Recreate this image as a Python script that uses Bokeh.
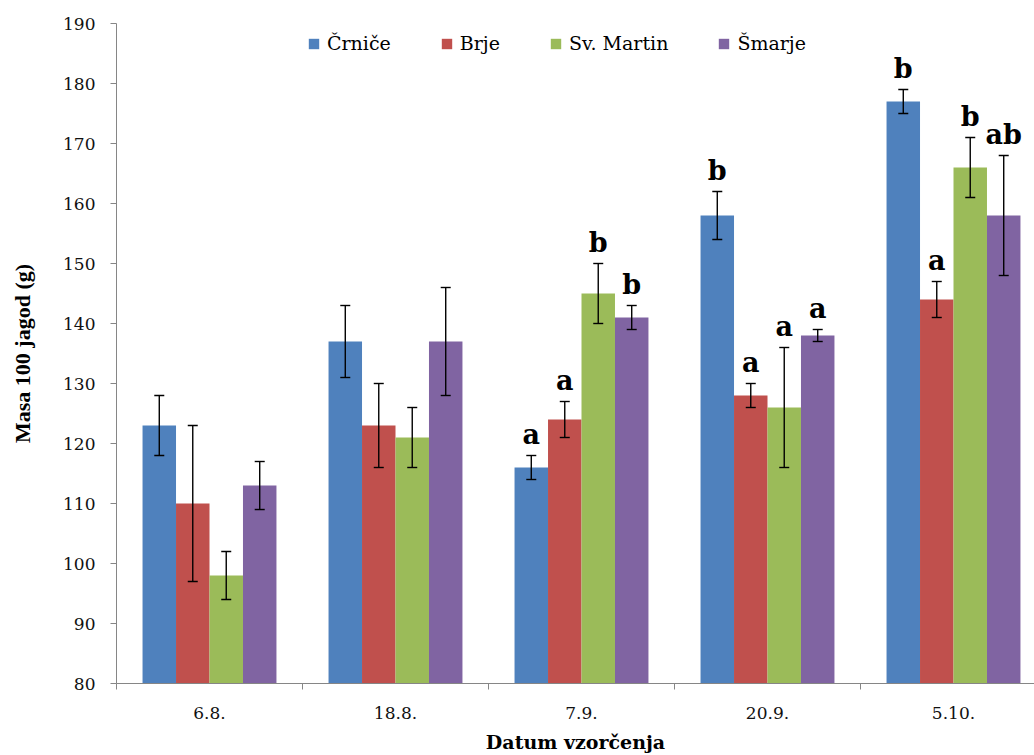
from bokeh.plotting import figure
from bokeh.models import Range1d, FixedTicker, ColumnDataSource, Whisker, Legend, LegendItem, TeeHead
from bokeh.core.properties import value
from bokeh.embed import file_html
from bokeh.resources import INLINE

# ---------------- data ----------------
dates = ["6.8.", "18.8.", "7.9.", "20.9.", "5.10."]
series = ["Črniče", "Brje", "Sv. Martin", "Šmarje"]

crnice = [123, 137, 116, 158, 177]
crnice_err = [5, 6, 2, 4, 2]
brje = [110, 123, 124, 128, 144]
brje_err = [13, 7, 3, 2, 3]
martin = [98, 121, 145, 126, 166]
martin_err = [4, 5, 5, 10, 5]
smarje = [113, 137, 141, 138, 158]
smarje_err = [4, 9, 2, 1, 10]

crnice_sig = ["", "", "a", "b", "b"]
brje_sig = ["", "", "a", "a", "a"]
martin_sig = ["", "", "b", "a", "b"]
smarje_sig = ["", "", "b", "a", "ab"]

y_ticks = [80, 90, 100, 110, 120, 130, 140, 150, 160, 170, 180, 190]

colors = ["#4F81BD", "#C0504D", "#9BBB59", "#8064A2"]

# ---------------- layout constants ----------------
W, H = 1034, 755
LEFT, TOP = 116, 23
CAT_PX = 186.0
FRAME_W = W - LEFT
FRAME_H = 660
y_min, y_max = y_ticks[0], y_ticks[-1]
px_per_unit = FRAME_H / (y_max - y_min)

SERIF = "DejaVu Serif"

p = figure(width=W, height=H, output_backend="svg", toolbar_location=None,
           x_range=Range1d(0, FRAME_W / CAT_PX), y_range=Range1d(y_min, y_max),
           min_border_left=LEFT, min_border_top=TOP, min_border_right=0,
           min_border_bottom=H - TOP - FRAME_H)
p.outline_line_color = None
p.xgrid.visible = False
p.ygrid.visible = False
p.background_fill_color = "white"
p.border_fill_color = "white"

values = [crnice, brje, martin, smarje]
errs = [crnice_err, brje_err, martin_err, smarje_err]
sigs = [crnice_sig, brje_sig, martin_sig, smarje_sig]
offsets = [-0.27, -0.09, 0.09, 0.27]
bar_w = 0.18
letter_gap = 21 / px_per_unit

items = []
for s, (name, vals, err, sig, col, off) in enumerate(zip(series, values, errs, sigs, colors, offsets)):
    xs = [i + 0.5 + off for i in range(len(dates))]
    upper = [v + e for v, e in zip(vals, err)]
    src = ColumnDataSource(dict(
        x=xs, top=vals,
        upper=upper,
        lower=[v - e for v, e in zip(vals, err)],
        label_y=[u + letter_gap for u in upper],
        sig=sig))
    r = p.vbar(x="x", top="top", bottom=y_min, width=bar_w, source=src,
               fill_color=col, line_color=None)
    items.append(LegendItem(label=name, renderers=[r]))
    wk = Whisker(base="x", upper="upper", lower="lower", source=src,
                 line_color="black", line_width=1.4, level="overlay",
                 upper_head=TeeHead(size=10, line_color="black", line_width=1.4),
                 lower_head=TeeHead(size=10, line_color="black", line_width=1.4))
    p.add_layout(wk)
    p.text(x="x", y="label_y", text="sig", source=src,
           text_font=value(SERIF), text_font_style="bold", text_font_size="27px",
           text_align="center", text_baseline="middle",
           text_color="black")

# legend
legend = Legend(items=items, orientation="horizontal", location=(191, 629),
                label_text_font=SERIF, label_text_font_size="19px",
                label_text_color="black", glyph_width=13, glyph_height=13,
                label_standoff=7, spacing=49, padding=0, margin=0,
                label_height=20, border_line_color=None, background_fill_alpha=0)
p.add_layout(legend)

# x axis
xa = p.xaxis[0]
xa.ticker = FixedTicker(ticks=[i + 0.5 for i in range(len(dates))],
                        minor_ticks=[float(i) for i in range(len(dates) + 1)])
xa.major_label_overrides = {i + 0.5: d for i, d in enumerate(dates)}
xa.major_tick_out = 0
xa.major_tick_in = 0
xa.minor_tick_out = 6
xa.minor_tick_in = 0
xa.minor_tick_line_color = "#868686"
xa.axis_line_color = "#868686"
xa.major_label_text_font = SERIF
xa.major_label_text_font_size = "17px"
xa.major_label_text_color = "#111111"
xa.major_label_standoff = 17
xa.axis_label = "Datum vzorčenja"
xa.axis_label_text_font = SERIF
xa.axis_label_text_font_style = "bold"
xa.axis_label_text_font_size = "19px"
xa.axis_label_text_color = "black"
xa.axis_label_standoff = 9

# y axis
ya = p.yaxis[0]
ya.ticker = FixedTicker(ticks=y_ticks, minor_ticks=[])
ya.major_tick_out = 6
ya.major_tick_in = 0
ya.major_tick_line_color = "#868686"
ya.axis_line_color = "#868686"
ya.major_label_text_font = SERIF
ya.major_label_text_font_size = "17px"
ya.major_label_text_color = "#111111"
ya.major_label_standoff = 15
ya.axis_label = "Masa 100 jagod (g)"
ya.axis_label_text_font = "Liberation Serif"
ya.axis_label_text_font_style = "bold"
ya.axis_label_text_font_size = "22px"
ya.axis_label_text_color = "black"
ya.axis_label_standoff = 25

open("out.html", "w").write(file_html(p, INLINE))
